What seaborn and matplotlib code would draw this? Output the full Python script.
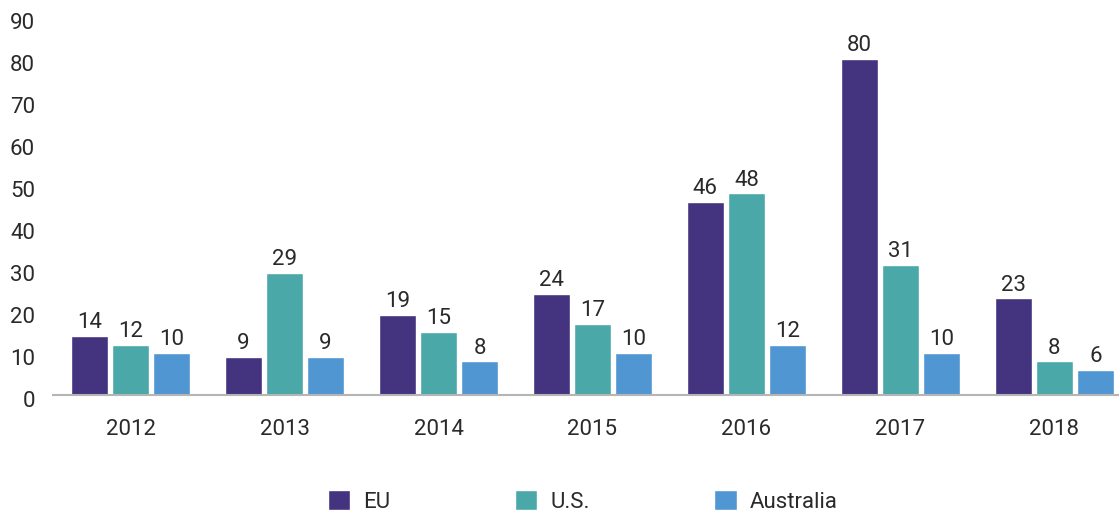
import pandas as pd
import matplotlib.pyplot as plt
import matplotlib.transforms as mtransforms
import seaborn as sns

years = ["2012", "2013", "2014", "2015", "2016", "2017", "2018"]
eu = [14, 9, 19, 24, 46, 80, 23]
us = [12, 29, 15, 17, 48, 31, 8]
australia = [10, 9, 8, 10, 12, 10, 6]
regions = ["EU", "U.S.", "Australia"]
colors = ["#44337f", "#4aa8a8", "#5096d3"]

df = pd.DataFrame({"Year": years * 3,
                   "Region": [r for r in regions for _ in years],
                   "Value": eu + us + australia})

sns.set_theme(style="white")
plt.rcParams["font.family"] = ["Roboto", "DejaVu Sans"]

fig = plt.figure(figsize=(11.19, 5.15), dpi=100)
ax = fig.add_axes([0.0474, 0.233, 0.9526, 0.734])
sns.barplot(data=df, x="Year", y="Value", hue="Region", palette=colors,
            width=0.8, gap=0.1, saturation=1, ax=ax, legend=True)

for c in ax.containers:
    ax.bar_label(c, fmt="%d", padding=2, fontsize=16, color="#2a2a2a")

ax.set_ylim(0, 90)
ax.set_xlim(-0.504, 6.42)
ax.set_yticks(range(0, 91, 10))
ax.set_xlabel("")
ax.set_ylabel("")
ax.tick_params(axis="both", labelsize=16, colors="#2a2a2a", length=0)
ax.tick_params(axis="x", pad=17)
ax.tick_params(axis="y", pad=13)

# y labels sit a little below their values in the original
shift = mtransforms.ScaledTranslation(0, -4 / 100, fig.dpi_scale_trans)
for lab in ax.get_yticklabels():
    lab.set_transform(lab.get_transform() + shift)

for s in ["top", "right", "left"]:
    ax.spines[s].set_visible(False)
ax.spines["bottom"].set_color("#b5b5b5")
ax.spines["bottom"].set_linewidth(1.5)

leg = ax.legend(loc="center", bbox_to_anchor=(0.497, -0.282), ncol=3,
                frameon=False, fontsize=16, handlelength=1.0, handleheight=1.0,
                columnspacing=5.6, handletextpad=0.6)
for t in leg.get_texts():
    t.set_color("#2a2a2a")

plt.savefig("out.png", dpi=100)
